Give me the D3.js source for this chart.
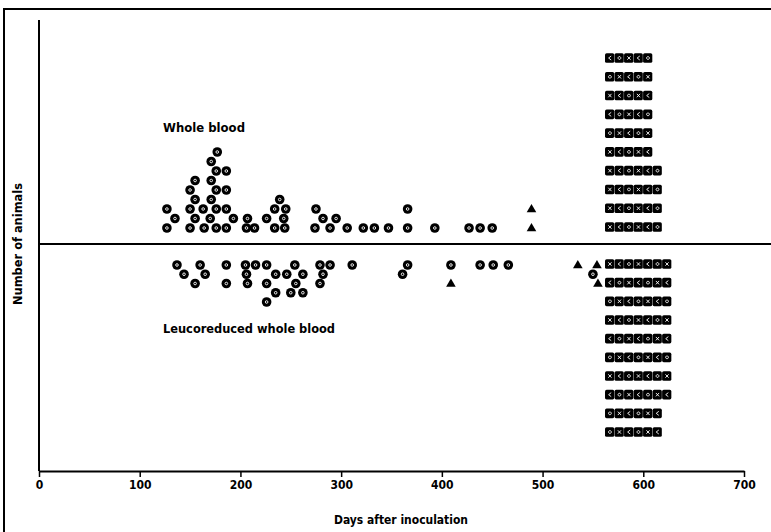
<!DOCTYPE html>
<html>
<head>
<meta charset="utf-8">
<script src="https://cdn.jsdelivr.net/npm/d3@7"></script>
<style>
  body { margin: 0; background: #fff; }
  svg { display: block; }
  text { font-family: "DejaVu Sans Condensed", "DejaVu Sans", sans-serif; font-weight: bold; fill: #000; }
</style>
</head>
<body>
<svg id="chart" width="771" height="532"></svg>
<script>
// days after inoculation, one array per stack level (level 0 sits next to the centre line)
const wholeRows = [
  [127, 150, 164, 176, 186, 206, 214, 234, 244, 274, 289, 306, 322, 333, 347, 366, 393, 427, 438, 450],
  [135, 155, 170, 193, 207, 226, 243, 282, 295],
  [127, 150, 163, 176, 186, 234, 245, 275, 366],
  [155, 171, 239],
  [150, 176, 186],
  [155, 171],
  [176, 186],
  [171],
  [177]
];
const wholeTriangles = [[489, 0], [489, 2]];   // [day, level]

const leucoRows = [
  [137, 160, 186, 205, 215, 226, 254, 279, 289, 311, 366, 409, 438, 451, 466],
  [144, 165, 206, 235, 246, 262, 282, 361, 550],
  [155, 186, 207, 226, 255, 279],
  [235, 250, 262],
  [226]
];
const leucoTriangles = [[409, 2], [535, 0], [554, 0], [555, 2]];

// survivors at end of study: squares per row
const survivorStart = 562;
const wholeSurvivors = [6, 6, 6, 6, 5, 5, 5, 5, 5, 5];   // bottom row first
const leucoSurvivors = [7, 7, 7, 7, 7, 7, 7, 7, 6, 6];   // top row first

const xTicks = [0, 100, 200, 300, 400, 500, 600, 700];

const svg = d3.select("#chart");

const x = d3.scaleLinear().domain([0, 700]).range([39, 744]);
const midY = 244;
const yWhole = d3.scaleLinear().domain([0, 8]).range([228, 152]);
const yLeuco = d3.scaleLinear().domain([0, 4]).range([265, 302]);
const yWholeSurv = d3.scaleLinear().domain([0, 9]).range([227, 58]);
const yLeucoSurv = d3.scaleLinear().domain([0, 9]).range([264, 432]);

// page frame
svg.append("path")
  .attr("d", "M4,532 V9 H771")
  .attr("fill", "none").attr("stroke", "#000").attr("stroke-width", 2);

// y axis + centre line
svg.append("line")
  .attr("x1", x(0)).attr("x2", x(0)).attr("y1", 20).attr("y2", 471)
  .attr("stroke", "#000").attr("stroke-width", 2);
svg.append("line")
  .attr("x1", x(0)).attr("x2", 771).attr("y1", midY).attr("y2", midY)
  .attr("stroke", "#000").attr("stroke-width", 2);

// x axis
const xAxis = svg.append("g")
  .attr("transform", "translate(0,471)")
  .call(d3.axisBottom(x).tickValues(xTicks).tickSize(6).tickSizeOuter(0).tickPadding(3));
xAxis.select(".domain").attr("stroke-width", 2);
xAxis.selectAll(".tick line").attr("stroke-width", 1.5);
xAxis.selectAll(".tick text").style("font-size", "12px").style("font-family", null);

// helpers
function dots(rows, yScale) {
  const pts = [];
  rows.forEach((row, lvl) => row.forEach(d => pts.push({ day: d, lvl })));
  const g = svg.append("g");
  const c = g.selectAll("g").data(pts).join("g")
    .attr("transform", d => `translate(${x(d.day)},${yScale(d.lvl)})`);
  c.append("circle").attr("r", 4.8).attr("fill", "#000");
  c.append("circle").attr("r", 1.3).attr("fill", "none")
    .attr("stroke", "#fff").attr("stroke-width", 0.9);
}

function triangles(list, yScale) {
  svg.append("g").selectAll("path").data(list).join("path")
    .attr("d", d3.symbol(d3.symbolTriangle, 40))
    .attr("transform", d => `translate(${x(d[0])},${yScale(d[1]) + 0.5})`)
    .attr("fill", "#000");
}

function survivors(counts, yScale) {
  const cells = [];
  counts.forEach((n, r) => { for (let i = 0; i < n; i++) cells.push({ r, i }); });
  const step = 9.45;   // days per square
  const g = svg.append("g").selectAll("g").data(cells).join("g")
    .attr("transform", d => `translate(${x(survivorStart + d.i * step)},${yScale(d.r)})`);
  g.append("rect")
    .attr("x", 0).attr("y", -4.8)
    .attr("width", x(step) - x(0) - 0.3).attr("height", 9.6)
    .attr("rx", 1.6).attr("fill", "#000");
  g.append("path")
    .attr("d", (d, k) => k % 3 === 0 ? "M3.3,-1.7 L6.5,1.7 M6.5,-1.7 L3.3,1.7"
                       : k % 3 === 1 ? "M6.2,-2 L3.6,0 L6.2,2"
                       : "M4.9,-1.4 a1.4,1.4 0 1,0 0.01,0")
    .attr("fill", "none").attr("stroke", "#fff").attr("stroke-width", 0.9);
}

dots(wholeRows, yWhole);
triangles(wholeTriangles, yWhole);
dots(leucoRows, yLeuco);
triangles(leucoTriangles, yLeuco);
survivors(wholeSurvivors, yWholeSurv);
survivors(leucoSurvivors, yLeucoSurv);

// labels
svg.append("text").attr("x", 163).attr("y", 132)
  .attr("textLength", 82).attr("lengthAdjust", "spacingAndGlyphs")
  .style("font-size", "12px").text("Whole blood");
svg.append("text").attr("x", 163).attr("y", 333)
  .attr("textLength", 172).attr("lengthAdjust", "spacingAndGlyphs")
  .style("font-size", "12px").text("Leucoreduced whole blood");
svg.append("text").attr("x", 401).attr("y", 524).attr("text-anchor", "middle")
  .attr("textLength", 134).attr("lengthAdjust", "spacingAndGlyphs")
  .style("font-size", "12px").text("Days after inoculation");
svg.append("text")
  .attr("transform", `translate(22,${midY}) rotate(-90)`)
  .attr("text-anchor", "middle")
  .attr("textLength", 122).attr("lengthAdjust", "spacingAndGlyphs")
  .style("font-size", "12px").text("Number of animals");
</script>
</body>
</html>
